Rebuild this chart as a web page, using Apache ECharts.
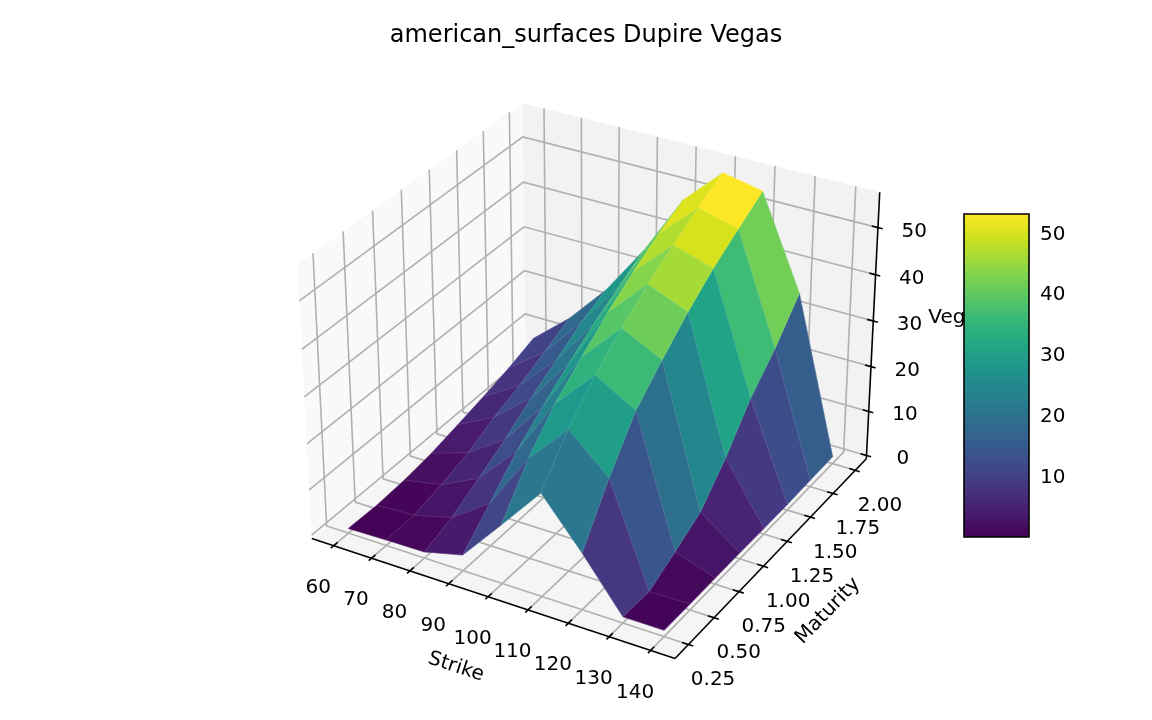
<!DOCTYPE html>
<html><head><meta charset="utf-8">
<style>html,body{margin:0;padding:0;background:#fff}#c{width:1152px;height:720px}</style>
<script src="https://cdn.jsdelivr.net/npm/echarts@6/dist/echarts.min.js"></script>
</head><body><div id="c"></div>
<script>
const titleText = 'american_surfaces Dupire Vegas';
const strikes = [60,70,80,90,100,110,120,130,140];
const maturities = [0.25,0.5,0.75,1,1.25,1.5,1.75,2];
// rows: maturity, columns: strike
const vegaT025 = [0.3,0.5,0.6,2.7,12.0,21.5,11.5,0.6,0.6];
const vegaT050 = [0.1,0.6,2.8,8.6,20.9,29.7,22.1,0.4,0.55];
const vegaT075 = [0.5,2.1,6.2,14.7,27.6,36.1,31.2,3.5,0.6];
const vegaT100 = [1.4,4.1,9.7,19.5,32.6,41.1,36.9,6.8,0.6];
const vegaT125 = [2.8,7.1,13.9,24.0,37.4,45.7,42.2,13.4,0.5];
const vegaT150 = [4.3,9.4,17.5,28.0,41.5,49.4,46.8,21.4,0.5];
const vegaT175 = [6.0,12.2,21.3,31.6,45.1,52.9,50.6,27.4,0.7];
const vegaT200 = [8.1,15.1,23.9,35.0,48.1,56.0,54.3,34.7,0.85];
const vegaRows = [vegaT025,vegaT050,vegaT075,vegaT100,vegaT125,vegaT150,vegaT175,vegaT200];
const strikeTicks = [60,70,80,90,100,110,120,130,140];
const maturityTicks = [0.25,0.5,0.75,1,1.25,1.5,1.75,2];
const maturityTickLabels = ['0.25','0.50','0.75','1.00','1.25','1.50','1.75','2.00'];
const vegaTicks = [0,10,20,30,40,50];
const colorbarTicks = [10,20,30,40,50];
const colorRange = [0.1,53.2];
const viridis = ['#440154','#481a6c','#472f7d','#414487','#39568c','#31688e','#2a788e','#23888e','#1f988b','#22a884','#35b779','#54c568','#7ad151','#a5db36','#d2e21b','#fde725'];

// 3D box limits and camera (elevation 30, azimuth -60, distance 10)
const xLim = [54.17,145.83], yLim = [0.1224,2.1276], zLim = [-0.75,57.4];
const box = [1.30733,1.30733,0.9805];
const U = [0.8660254,0.5,0], V = [-0.25,0.4330127,0.8660254], W = [0.4330127,-0.75,0.5];
const scale = 3180, cx = 594.7, cy = 366;
function norm(v,l){return (v-l[0])/(l[1]-l[0]);}
function projN(nx,ny,nz){
  const r=[box[0]*(nx-.5),box[1]*(ny-.5),box[2]*(nz-.5)];
  const dot=a=>a[0]*r[0]+a[1]*r[1]+a[2]*r[2];
  const d=10-dot(W);
  return [dot(U)/d,dot(V)/d,d];
}
function project(x,y,z){return projN(norm(x,xLim),norm(y,yLim),norm(z,zLim));}

// faces, painter-sorted
const faces=[];
for(let j=0;j<maturities.length-1;j++)for(let i=0;i<strikes.length-1;i++){
  const zs=[vegaRows[j][i],vegaRows[j][i+1],vegaRows[j+1][i+1],vegaRows[j+1][i]];
  const avg=zs.reduce((a,b)=>a+b,0)/4;
  const ds=[project(strikes[i],maturities[j],zs[0]),project(strikes[i+1],maturities[j],zs[1]),project(strikes[i+1],maturities[j+1],zs[2]),project(strikes[i],maturities[j+1],zs[3])];
  faces.push({v:[i,j,avg],d:ds.reduce((a,p)=>a+p[2],0)/4});
}
faces.sort((a,b)=>b.d-a.d);

const FONT='"DejaVu Sans"', FS=20, GRID='#b0b0b0';
const LW=1.6;
const chart=echarts.init(document.getElementById('c'),null,{renderer:'canvas'});
function pc(api,p){return api.coord([p[0],p[1]]);}

const panes=[
 {c:'#f9f9f9',q:[[0,0,0],[0,1,0],[0,1,1],[0,0,1]]},
 {c:'#f2f2f2',q:[[0,1,0],[1,1,0],[1,1,1],[0,1,1]]},
 {c:'#f5f5f5',q:[[0,0,0],[1,0,0],[1,1,0],[0,1,0]]}
];
function gridLine(kind,v){
  if(kind===0){const n=norm(v,xLim);return [[n,0,0],[n,1,0],[n,1,1]];}
  if(kind===1){const n=norm(v,yLim);return [[1,n,0],[0,n,0],[0,n,1]];}
  const n=norm(v,zLim);return [[0,0,n],[0,1,n],[1,1,n]];
}
function tickLine(kind,v){
  const a=0.0167,b=0.0125;
  if(kind===0){const n=norm(v,xLim);return [[n,a,0],[n,-b,0]];}
  if(kind===1){const n=norm(v,yLim);return [[1-a,n,0],[1+b,n,0]];}
  const n=norm(v,zLim);return [[1-a,1,n],[1+b,1,n]];
}
const tickData=[].concat(strikeTicks.map(v=>[0,v]),maturityTicks.map(v=>[1,v]),vegaTicks.map(v=>[2,v]));
const axisEnds=[[[0,0,0],[1,0,0]],[[1,0,0],[1,1,0]],[[1,1,0],[1,1,1]]];
const labelOffset=[[-16,42.5],[25.5,35.5],[37,4]];
function labelText(kind,v){
  if(kind===1)return maturityTickLabels[maturityTicks.indexOf(v)];
  return String(v);
}
const axisNames=[
 {t:'Strike',at:[456,667],r:-18},
 {t:'Maturity',at:[828,611],r:46},
 {t:'Vega',at:[953,318],r:0}
];

const option={
 animation:false,
 backgroundColor:'#fff',
 title:{text:titleText,left:581,top:19,textAlign:'center',textStyle:{fontFamily:FONT,fontSize:24,fontWeight:'normal',color:'#000'}},
 grid:[
  {left:0,top:0,width:1152,height:720},
  {left:964,top:214,width:65,height:323}
 ],
 xAxis:[
  {type:'value',show:false,min:(0-cx)/scale,max:(1152-cx)/scale},
  {type:'value',gridIndex:1,show:false,min:0,max:1}
 ],
 yAxis:[
  {type:'value',show:false,min:(cy-720)/scale,max:cy/scale},
  {type:'value',gridIndex:1,position:'right',min:colorRange[0],max:colorRange[1],
   splitLine:{show:false},
   axisLine:{show:false},
   axisTick:{show:true,length:7,customValues:colorbarTicks,lineStyle:{color:'#000',width:LW}},
   axisLabel:{show:false}}
 ],
 visualMap:{type:'continuous',show:true,min:colorRange[0],max:colorRange[1],seriesIndex:5,dimension:2,
  inRange:{color:viridis},left:964,top:214,itemWidth:65,itemHeight:323,padding:0,calculable:false,realtime:false,
  text:null,hoverLink:false,z:4},
 series:[
  {type:'custom',name:'panes',coordinateSystem:'cartesian2d',silent:true,clip:false,z:1,data:panes.map((_,i)=>[i,0]),
   renderItem(p,api){const P=panes[api.value(0)];
    return {type:'polygon',shape:{points:P.q.map(q=>pc(api,projN(q[0],q[1],q[2])))},style:{fill:P.c}};}},
  {type:'custom',name:'grid',coordinateSystem:'cartesian2d',silent:true,clip:false,z:1,data:tickData,
   renderItem(p,api){const pts=gridLine(api.value(0),api.value(1)).map(q=>pc(api,projN(q[0],q[1],q[2])));
    return {type:'polyline',shape:{points:pts},style:{stroke:GRID,lineWidth:LW,fill:'none'}};}},
  {type:'custom',name:'axisLines',coordinateSystem:'cartesian2d',silent:true,clip:false,z:1,data:axisEnds.map((_,i)=>[i,0]),
   renderItem(p,api){const pts=axisEnds[api.value(0)].map(q=>pc(api,projN(q[0],q[1],q[2])));
    return {type:'polyline',shape:{points:pts},style:{stroke:'#000',lineWidth:LW,fill:'none'}};}},
  {type:'custom',name:'ticks',coordinateSystem:'cartesian2d',silent:true,clip:false,z:1,data:tickData,
   renderItem(p,api){const pts=tickLine(api.value(0),api.value(1)).map(q=>pc(api,projN(q[0],q[1],q[2])));
    return {type:'polyline',shape:{points:pts},style:{stroke:'#000',lineWidth:LW,fill:'none'}};}},
  {type:'custom',name:'tickLabels',coordinateSystem:'cartesian2d',silent:true,clip:false,z:1,data:tickData,
   renderItem(p,api){const k=api.value(0),v=api.value(1);
    const t=tickLine(k,v),m=[0,1,2].map(i=>(t[0][i]+t[1][i])/2);
    const c=pc(api,projN(m[0],m[1],m[2]));
    return {type:'text',style:{text:labelText(k,v),x:c[0]+labelOffset[k][0],y:c[1]+labelOffset[k][1],
      fontFamily:FONT,fontSize:FS,fill:'#000',align:'center',verticalAlign:'middle'}};}},
  {type:'custom',name:'surface',coordinateSystem:'cartesian2d',silent:true,clip:false,z:2,
   data:faces.map(f=>f.v),
   renderItem(p,api){const i=api.value(0),j=api.value(1);
    const corners=[[i,j],[i+1,j],[i+1,j+1],[i,j+1]];
    const pts=corners.map(c=>pc(api,project(strikes[c[0]],maturities[c[1]],vegaRows[c[1]][c[0]])));
    const col=api.visual('color');
    return {type:'group',children:[
      {type:'polygon',shape:{points:pts},style:{fill:col,stroke:col,lineWidth:0.6}},
      {type:'polyline',shape:{points:[pts[0],pts[1],pts[2],pts[3],pts[0]]},style:{fill:'none',stroke:'rgba(255,255,255,0.13)',lineWidth:0.6}}
    ]};}},
  {type:'custom',name:'axisNames',coordinateSystem:'cartesian2d',silent:true,clip:false,z:3,data:axisNames.map((_,i)=>[i,0]),
   renderItem(p,api){const a=axisNames[api.value(0)];
    return {type:'text',x:a.at[0],y:a.at[1],rotation:a.r*Math.PI/180,
      style:{text:a.t,x:0,y:0,fontFamily:FONT,fontSize:FS,fill:'#000',align:'center',verticalAlign:'middle'}};}},
  {type:'custom',name:'colorbarFrame',coordinateSystem:'cartesian2d',xAxisIndex:1,yAxisIndex:1,silent:true,clip:false,z:6,data:[[0,0]],
   renderItem(p,api){const a=api.coord([0,colorRange[1]]),b=api.coord([1,colorRange[0]]);
    return {type:'rect',shape:{x:a[0],y:a[1],width:b[0]-a[0],height:b[1]-a[1]},style:{fill:'none',stroke:'#000',lineWidth:LW}};}},
  {type:'custom',name:'colorbarLabels',coordinateSystem:'cartesian2d',xAxisIndex:1,yAxisIndex:1,silent:true,clip:false,z:6,
   data:colorbarTicks.map(v=>[1,v]),
   renderItem(p,api){const v=api.value(1),c=api.coord([1,v]);
    return {type:'text',style:{text:String(v),x:c[0]+11,y:c[1]+1,fontFamily:FONT,fontSize:FS,fill:'#000',align:'left',verticalAlign:'middle'}};}}
 ]
};
chart.setOption(option);
</script></body></html>
